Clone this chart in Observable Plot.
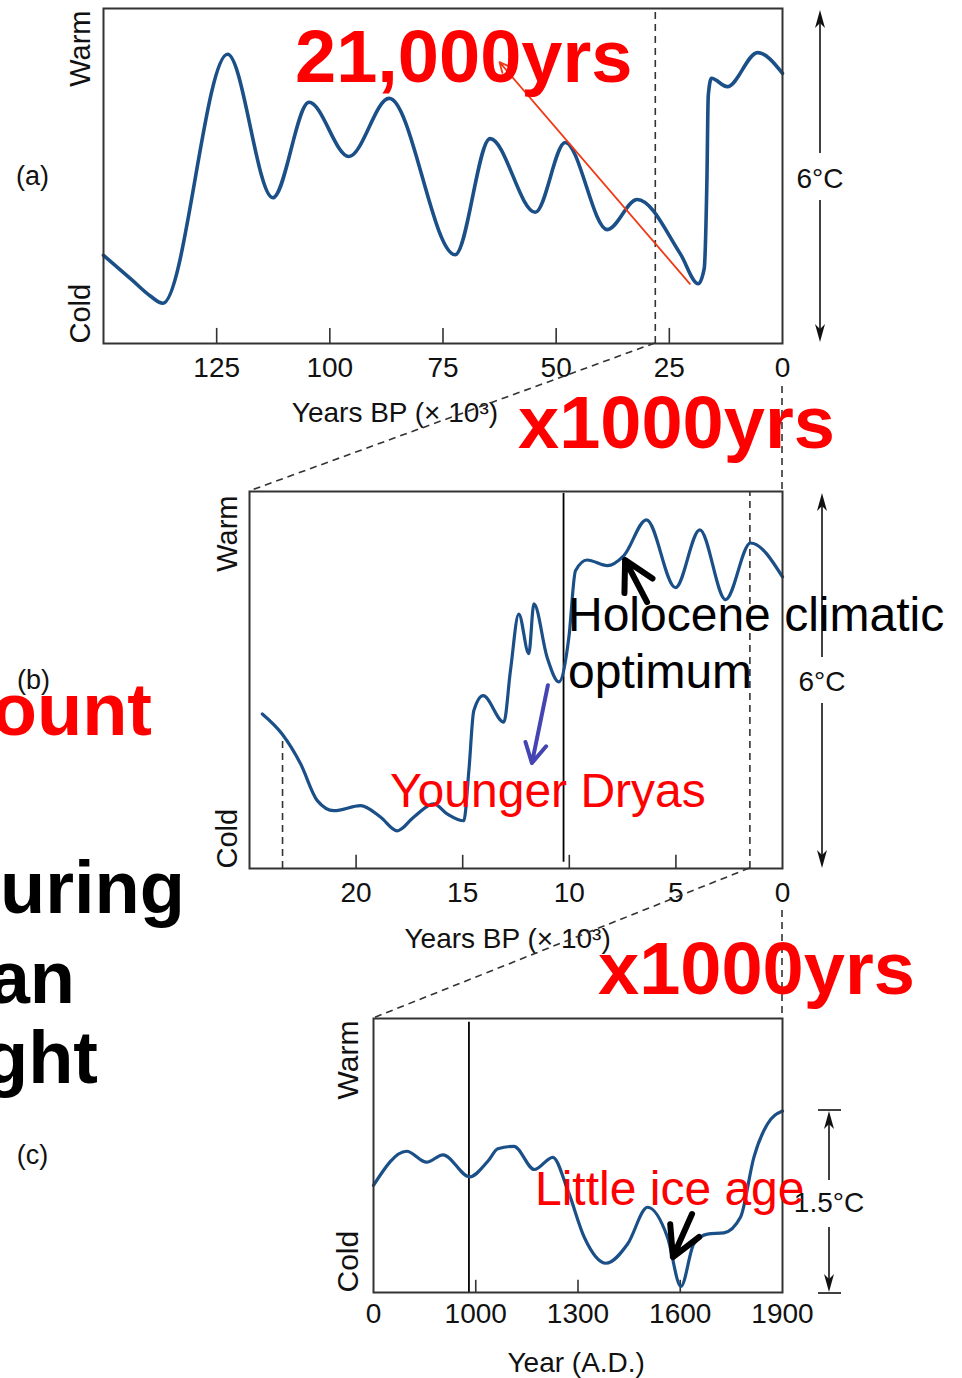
<!DOCTYPE html>
<html><head><meta charset="utf-8">
<script src="https://cdn.jsdelivr.net/npm/d3@7"></script>
<script src="https://cdn.jsdelivr.net/npm/@observablehq/plot@0.6"></script>
<style>
html,body{margin:0;padding:0;background:#fff;overflow:hidden;}
#wrap{position:relative;width:962px;height:1378px;overflow:hidden;background:#fff;}
#wrap svg{position:absolute;left:0;}
</style></head><body><div id="wrap"></div>
<script>
const FONT = '"Liberation Sans", Arial, Helvetica, sans-serif';

// ---------- DATA ----------
// Panel (a): last 150 000 years (thousands of years BP) ; relative temperature (°C above coldest)
const aAge  = [150, 143.6, 139.8, 136.9, 122.6, 112.6, 104.6, 95.8, 86.9, 72.3, 64.6, 54.6, 48.0, 38.7, 32.1, 22.6, 18.6, 17.3, 16.7, 16.4, 15.7, 12.2, 5.5, 0];
const aTemp = [1.58, 1.13, 0.86, 0.72, 5.18, 2.61, 4.32, 3.35, 4.39, 1.59, 3.67, 2.35, 3.60, 2.04, 2.58, 1.61, 1.07, 1.34, 2.92, 4.44, 4.75, 4.60, 5.21, 4.84];
const aTicks = [125, 100, 75, 50, 25, 0];
const aDashed = [28.1];

// Panel (b): last 25 000 years
const bAge  = [24.4, 23.47, 22.61, 21.82, 21.04, 19.79, 18.86, 18.07, 17.29, 16.36, 15.73, 14.95, 14.71, 14.48, 14.04, 13.07, 12.76, 12.37, 11.90, 11.66, 11.04, 10.49, 10.02, 9.71, 9.16, 8.22, 7.44, 6.38, 5.02, 3.88, 2.67, 1.50, 0];
const bTemp = [2.46, 2.14, 1.67, 1.08, 0.92, 1.00, 0.82, 0.60, 0.82, 1.03, 0.87, 0.76, 1.56, 2.51, 2.75, 2.33, 3.15, 4.05, 3.42, 4.21, 3.36, 2.97, 3.68, 4.74, 4.91, 4.82, 4.98, 5.55, 4.47, 5.39, 4.28, 5.18, 4.64];
const bTicks = [20, 15, 10, 5, 0];
const bDashedAge = [23.45, 1.53];
const bDashedTop = [2.08, 6];
const bSolid = [10.27];

// Panel (c): last ~1000 years (A.D.)
const cYear = [700, 797, 856, 904, 982, 1036, 1065, 1112, 1172, 1226, 1270, 1319, 1382, 1446, 1504, 1563, 1602, 1640, 1680, 1728, 1777, 1816, 1855, 1900];
const cTemp = [0.88, 1.16, 1.07, 1.13, 0.95, 1.08, 1.18, 1.20, 1.01, 1.11, 0.84, 0.45, 0.24, 0.40, 0.70, 0.45, 0.05, 0.40, 0.48, 0.49, 0.62, 1.11, 1.38, 1.49];
const cTicks = [700, 1000, 1300, 1600, 1900];
const cTickLabels = ["0", "1000", "1300", "1600", "1900"];
const cSolid = [980];

const LINE = "#1b4f87";
const wrap = document.getElementById("wrap");
const baseStyle = {fontFamily: FONT, fontSize: "28px", color: "#111", background: "transparent", overflow: "visible"};

function rows(xs, ys) { return xs.map((x, i) => ({x, y: ys[i]})); }

// ---------- PANEL A ----------
const topA = 0;
const plotA = Plot.plot({
  width: 962, height: 440,
  marginLeft: 103, marginRight: 180, marginTop: 8, marginBottom: 97,
  style: baseStyle,
  x: {domain: [150, 0], ticks: aTicks, tickSize: 0, tickPadding: 14, label: null},
  y: {domain: [0, 6], axis: null},
  marks: [
    Plot.ruleX(aTicks.filter(d => d > 0), {y1: 0, y2: 0.27, stroke: "#333", strokeWidth: 1.6}),
    Plot.ruleX(aDashed, {y1: 0, y2: 6, stroke: "#333", strokeWidth: 1.6, strokeDasharray: "7,5"}),
    Plot.line(rows(aAge, aTemp), {x: "x", y: "y", curve: "monotone-x", stroke: LINE, strokeWidth: 3.6}),
    Plot.frame({stroke: "#333", strokeWidth: 2}),
    Plot.text(["Warm"], {frameAnchor: "top-left", rotate: -90, textAnchor: "end", lineAnchor: "middle", dx: -23, dy: 2, fontSize: 29}),
    Plot.text(["Cold"], {frameAnchor: "bottom-left", rotate: -90, textAnchor: "start", lineAnchor: "middle", dx: -23, fontSize: 29}),
    Plot.text(["(a)"], {frameAnchor: "left", textAnchor: "middle", dx: -71, fontSize: 27}),
    Plot.text(["Years BP (× 10³)"], {x: 108.4, frameAnchor: "bottom", textAnchor: "start", lineAnchor: "top", dy: 59})
  ]
});
plotA.style.top = topA + "px";
wrap.appendChild(plotA);

// ---------- PANEL B ----------
const topB = 470;
const plotB = Plot.plot({
  width: 962, height: 490,
  marginLeft: 249, marginRight: 180, marginTop: 21, marginBottom: 92,
  style: baseStyle,
  x: {domain: [25, 0], ticks: bTicks, tickSize: 0, tickPadding: 14, label: null},
  y: {domain: [0, 6], axis: null},
  marks: [
    Plot.ruleX(bTicks.filter(d => d > 0), {y1: 0, y2: 0.21, stroke: "#333", strokeWidth: 1.6}),
    Plot.ruleX(rows(bDashedAge, bDashedTop), {x: "x", y1: 0, y2: "y", stroke: "#333", strokeWidth: 1.6, strokeDasharray: "7,5"}),
    Plot.ruleX(bSolid, {y1: 0.1, y2: 5.97, stroke: "#000", strokeWidth: 1.8}),
    Plot.line(rows(bAge, bTemp), {x: "x", y: "y", curve: "monotone-x", stroke: LINE, strokeWidth: 3.2}),
    Plot.frame({stroke: "#333", strokeWidth: 2}),
    Plot.text(["Warm"], {frameAnchor: "top-left", rotate: -90, textAnchor: "end", lineAnchor: "middle", dx: -22, dy: 4, fontSize: 29}),
    Plot.text(["Cold"], {frameAnchor: "bottom-left", rotate: -90, textAnchor: "start", lineAnchor: "middle", dx: -22, fontSize: 29}),
    Plot.text(["(b)"], {frameAnchor: "left", textAnchor: "middle", dx: -216, fontSize: 27}),
    Plot.text(["Years BP (× 10³)"], {x: 17.73, frameAnchor: "bottom", textAnchor: "start", lineAnchor: "top", dy: 60})
  ]
});
plotB.style.top = topB + "px";
wrap.appendChild(plotB);

// ---------- PANEL C ----------
const topC = 995;
const plotC = Plot.plot({
  width: 962, height: 383,
  marginLeft: 373, marginRight: 180, marginTop: 23, marginBottom: 86,
  style: baseStyle,
  x: {domain: [700, 1900], ticks: cTicks, tickFormat: d => cTickLabels[cTicks.indexOf(d)], tickSize: 0, tickPadding: 11, label: null},
  y: {domain: [0, 2.25], axis: null},
  marks: [
    Plot.ruleX(cTicks.slice(1, -1), {y1: 0, y2: 0.1, stroke: "#333", strokeWidth: 1.6}),
    Plot.ruleX(cSolid, {y1: 0, y2: 2.22, stroke: "#000", strokeWidth: 1.8}),
    Plot.line(rows(cYear, cTemp), {x: "x", y: "y", curve: "monotone-x", stroke: LINE, strokeWidth: 3.2}),
    Plot.frame({stroke: "#333", strokeWidth: 2}),
    Plot.text(["Warm"], {frameAnchor: "top-left", rotate: -90, textAnchor: "end", lineAnchor: "middle", dx: -25, dy: 2, fontSize: 30}),
    Plot.text(["Cold"], {frameAnchor: "bottom-left", rotate: -90, textAnchor: "start", lineAnchor: "middle", dx: -25, fontSize: 30}),
    Plot.text(["(c)"], {frameAnchor: "left", textAnchor: "middle", dx: -341, fontSize: 27}),
    Plot.text(["Year (A.D.)"], {x: 1093, frameAnchor: "bottom", textAnchor: "start", lineAnchor: "top", dy: 60})
  ]
});
plotC.style.top = topC + "px";
wrap.appendChild(plotC);

// ---------- OVERLAY (connectors, arrows, annotations) ----------
function P(plot, top, x, y) { return [plot.scale("x").apply(x), top + plot.scale("y").apply(y)]; }
const ov = d3.create("svg").attr("width", 962).attr("height", 1378)
  .style("top", "0px").style("overflow", "visible").style("font-family", FONT);

function dashed(p, q) {
  ov.append("line").attr("x1", p[0]).attr("y1", p[1]).attr("x2", q[0]).attr("y2", q[1])
    .attr("stroke", "#333").attr("stroke-width", 1.6).attr("stroke-dasharray", "7,5");
}
const xA0 = plotA.scale("x").apply(0), xB0 = plotB.scale("x").apply(0);
dashed(P(plotA, topA, aDashed[0], 0), P(plotB, topB, 25, 6));
dashed([xA0, 386], P(plotB, topB, 0, 6));
dashed(P(plotB, topB, bDashedAge[1], 0), P(plotC, topC, 700, 2.25));
dashed([xB0, 910], P(plotC, topC, 1900, 2.25));

// double-headed scale arrows
function head(x, y, dir) { // dir -1 = up, 1 = down
  const L = 18, W = 5, N = 13;
  return `M${x},${y}L${x + W},${y - dir * L}L${x},${y - dir * N}L${x - W},${y - dir * L}Z`;
}
function scaleArrow(x, yTop, yBot, gapTop, gapBot, label, labelY, bars) {
  const g = ov.append("g");
  g.append("line").attr("x1", x).attr("x2", x).attr("y1", yTop + 10).attr("y2", gapTop).attr("stroke", "#111").attr("stroke-width", 1.6);
  g.append("line").attr("x1", x).attr("x2", x).attr("y1", gapBot).attr("y2", yBot - 10).attr("stroke", "#111").attr("stroke-width", 1.6);
  g.append("path").attr("d", head(x, yTop, -1)).attr("fill", "#111");
  g.append("path").attr("d", head(x, yBot, 1)).attr("fill", "#111");
  if (bars) {
    g.append("line").attr("x1", x - 11).attr("x2", x + 12).attr("y1", yTop - 1).attr("y2", yTop - 1).attr("stroke", "#111").attr("stroke-width", 1.6);
    g.append("line").attr("x1", x - 11).attr("x2", x + 12).attr("y1", yBot + 1).attr("y2", yBot + 1).attr("stroke", "#111").attr("stroke-width", 1.6);
  }
  g.append("text").attr("x", x).attr("y", labelY + 10).attr("text-anchor", "middle")
    .attr("font-size", 28).attr("fill", "#111").text(label);
}
const rA = plotA.scale("x").apply(0), rB = plotB.scale("x").apply(0), rC = plotC.scale("x").apply(1900);
scaleArrow(rA + 38, topA + plotA.scale("y").apply(6) + 2, topA + plotA.scale("y").apply(0) - 1, 153, 200, "6°C", 178, false);
scaleArrow(rB + 40, topB + plotB.scale("y").apply(6) + 2, topB + plotB.scale("y").apply(0), 657, 703, "6°C", 681, false);
scaleArrow(rC + 47, 1111, 1292, 1180, 1227, "1.5°C", 1202, true);

// annotation arrows (data coordinates of each panel)
function arrow(p, q, headLen, half, width, color) { // p tail, q tip
  const a = Math.atan2(p[1] - q[1], p[0] - q[0]);
  const h1 = [q[0] + headLen * Math.cos(a + half), q[1] + headLen * Math.sin(a + half)];
  const h2 = [q[0] + headLen * Math.cos(a - half), q[1] + headLen * Math.sin(a - half)];
  ov.append("path").attr("d", `M${p}L${q}M${h1}L${q}L${h2}`)
    .attr("fill", "none").attr("stroke", color).attr("stroke-width", width)
    .attr("stroke-linecap", "round").attr("stroke-linejoin", "round");
}
arrow(P(plotA, topA, 20.35, 1.06), P(plotA, topA, 62.4, 5.03), 11, 0.45, 1.8, "#f03a17");
arrow(P(plotB, topB, 6.33, 4.23), P(plotB, topB, 7.36, 4.90), 33, 0.5, 6, "#000");
arrow(P(plotB, topB, 10.98, 2.91), P(plotB, topB, 11.73, 1.67), 22, 0.5, 4, "#4444b2");
arrow(P(plotC, topC, 1636, 0.64), P(plotC, topC, 1580, 0.287), 33, 0.5, 6, "#000");

// overlaid slide text
const notes = [
  {t: "21,000yrs", x: 295, y: 82, s: 74, w: "bold", c: "#ff0000", a: "start"},
  {t: "x1000yrs", x: 518, y: 448, s: 74, w: "bold", c: "#ff0000", a: "start"},
  {t: "x1000yrs", x: 598, y: 994, s: 74, w: "bold", c: "#ff0000", a: "start"},
  {t: "ount", x: 152, y: 735, s: 74, w: "bold", c: "#ff0000", a: "end"},
  {t: "uring", x: 185, y: 913, s: 74, w: "bold", c: "#000", a: "end"},
  {t: "an", x: 75, y: 1003, s: 74, w: "bold", c: "#000", a: "end"},
  {t: "ght", x: 98, y: 1083, s: 74, w: "bold", c: "#000", a: "end"},
  {t: "Holocene climatic", x: 568, y: 631, s: 48, w: "normal", c: "#000", a: "start"},
  {t: "optimum", x: 568, y: 688, s: 48, w: "normal", c: "#000", a: "start"},
  {t: "Younger Dryas", x: 390, y: 807, s: 48, w: "normal", c: "#ff0000", a: "start"},
  {t: "Little ice age", x: 535, y: 1205, s: 48, w: "normal", c: "#ff0000", a: "start"}
];
ov.selectAll("text.note").data(notes).join("text").attr("class", "note")
  .attr("x", d => d.x).attr("y", d => d.y).attr("font-size", d => d.s)
  .attr("font-weight", d => d.w).attr("fill", d => d.c).attr("text-anchor", d => d.a)
  .text(d => d.t);

wrap.appendChild(ov.node());
</script>
</body></html>
